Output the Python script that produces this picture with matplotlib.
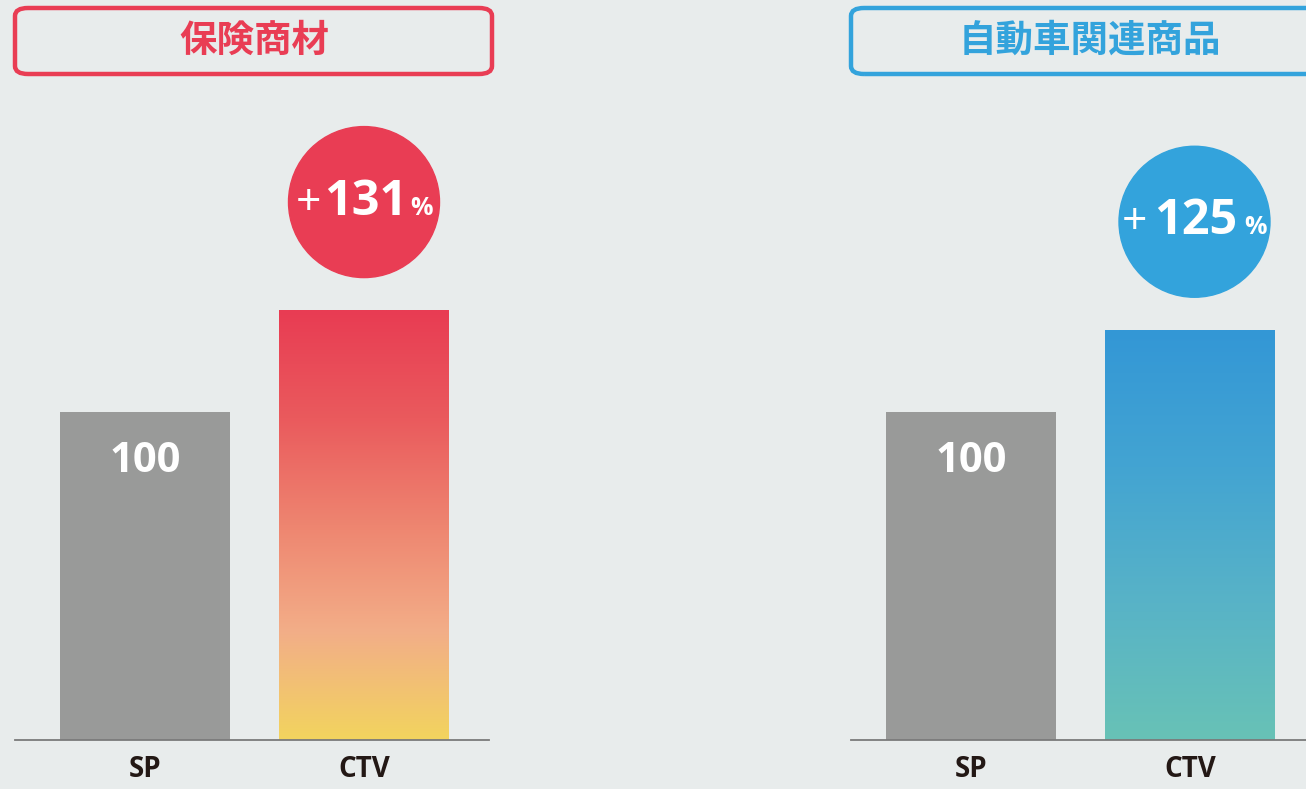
import matplotlib
matplotlib.use("Agg")
import matplotlib.pyplot as plt
import numpy as np
from matplotlib.patches import FancyBboxPatch, Ellipse
from matplotlib.colors import LinearSegmentedColormap
from matplotlib.offsetbox import TextArea, HPacker, AnnotationBbox

# ---- data ----
categories = ["SP", "CTV"]
titles = ["保険商材", "自動車関連商品"]
insurance_values = [100, 131]
auto_values = [100, 125]
insurance_lift = "131"
auto_lift = "125"

BG = "#e8ecec"
GRAY = "#999a99"
RED = "#e93d54"
BLUE = "#33a3dc"

W, H = 1306, 789
fig = plt.figure(figsize=(W / 100, H / 100), dpi=100)
fig.patch.set_facecolor(BG)

def fx(px): return px / W
def fy(py): return 1 - py / H

px_per_unit_y = 3.28     # pixels per value unit
spacing = 219.0          # px between bar centres
top_px = 80

panels = [
    dict(title=titles[0], values=insurance_values, lift=insurance_lift, color=RED,
         sp_center=145, left=15, right=489, box=(15, 8, 477, 66), title_x=254,
         grad=["#e83c53", "#ea5a5d", "#ee8570", "#f3ae88", "#f2d45e"], pct_space=False,
         circ_dx=0),
    dict(title=titles[1], values=auto_values, lift=auto_lift, color=BLUE,
         sp_center=971, left=851, right=1306, box=(851, 8, 500, 66), title_x=1090,
         grad=["#3397d6", "#43a4d2", "#58b3c7", "#68c2b6"], pct_space=True,
         circ_dx=4.5),
]

baseline_px = 740
ymax = (baseline_px - top_px) / px_per_unit_y

for p in panels:
    x0 = (p["left"] - p["sp_center"]) / spacing
    x1 = (p["right"] - p["sp_center"]) / spacing
    ax = fig.add_axes([fx(p["left"]), fy(baseline_px), fx(p["right"] - p["left"]),
                       (baseline_px - top_px) / H])
    ax.set_facecolor("none")
    ax.set_xlim(x0, x1)
    ax.set_ylim(0, ymax)
    for s in ["top", "right", "left"]:
        ax.spines[s].set_visible(False)
    ax.spines["bottom"].set_color("#7a7a7a")
    ax.spines["bottom"].set_linewidth(1.3)
    ax.set_yticks([])
    xs = np.arange(len(categories))
    ax.set_xticks(xs)
    ax.set_xticklabels(categories, fontsize=20, fontweight="bold", family="Open Sans",
                       color="#231815")
    ax.tick_params(axis="x", length=0, pad=11)
    bw = 170 / spacing
    bars = ax.bar(xs, p["values"], width=bw, color=[GRAY, "none"], zorder=2)
    # gradient fill for CTV bar
    cmap = LinearSegmentedColormap.from_list("g", p["grad"])
    grad = np.linspace(0, 1, 256).reshape(-1, 1)
    b = bars[1]
    im = ax.imshow(grad, cmap=cmap, aspect="auto", origin="upper",
                   extent=[b.get_x(), b.get_x() + b.get_width(), 0, b.get_height()],
                   zorder=2)
    im.set_clip_path(b)
    ax.set_xlim(x0, x1)
    ax.set_ylim(0, ymax)
    # value label in SP bar
    ax.text(xs[0], p["values"][0] - 15, str(p["values"][0]), ha="center", va="center",
            color="white", fontsize=30, fontweight="bold", family="Open Sans", zorder=3)
    # circle
    r = 75.5
    cy = p["values"][1] + 33
    cx = xs[1] + p["circ_dx"] / spacing
    ax.add_patch(Ellipse((cx, cy), 2 * r / spacing, 2 * r / px_per_unit_y,
                         color=p["color"], zorder=3, clip_on=False))
    pieces = [TextArea("+", textprops=dict(color="white", fontsize=32, family="Open Sans")),
              TextArea(p["lift"], textprops=dict(color="white", fontsize=35,
                                                 fontweight="bold", family="Open Sans")),
              TextArea("%", textprops=dict(color="white", fontsize=18,
                                           fontweight="bold", family="Open Sans"))]
    pack = HPacker(children=pieces, align="baseline", pad=0,
                   sep=5 if p["pct_space"] else 2)
    ab = AnnotationBbox(pack, (cx, cy), frameon=False, box_alignment=(0.5, 0.5),
                        zorder=4, annotation_clip=False)
    ax.add_artist(ab)
    # title box
    bx, by, bwid, bh = p["box"]
    fig.patches.append(FancyBboxPatch((fx(bx), fy(by + bh)), fx(bwid), bh / H,
                                      boxstyle="round,pad=0,rounding_size=0.01",
                                      transform=fig.transFigure, facecolor="none",
                                      edgecolor=p["color"], linewidth=3.2))
    fig.text(fx(p["title_x"]), fy(40), p["title"], ha="center", va="center",
             color=p["color"], fontsize=27, fontweight="bold",
             family=["Noto Sans CJK JP", "DejaVu Sans"])

fig.savefig("out.png", dpi=100, facecolor=BG)
